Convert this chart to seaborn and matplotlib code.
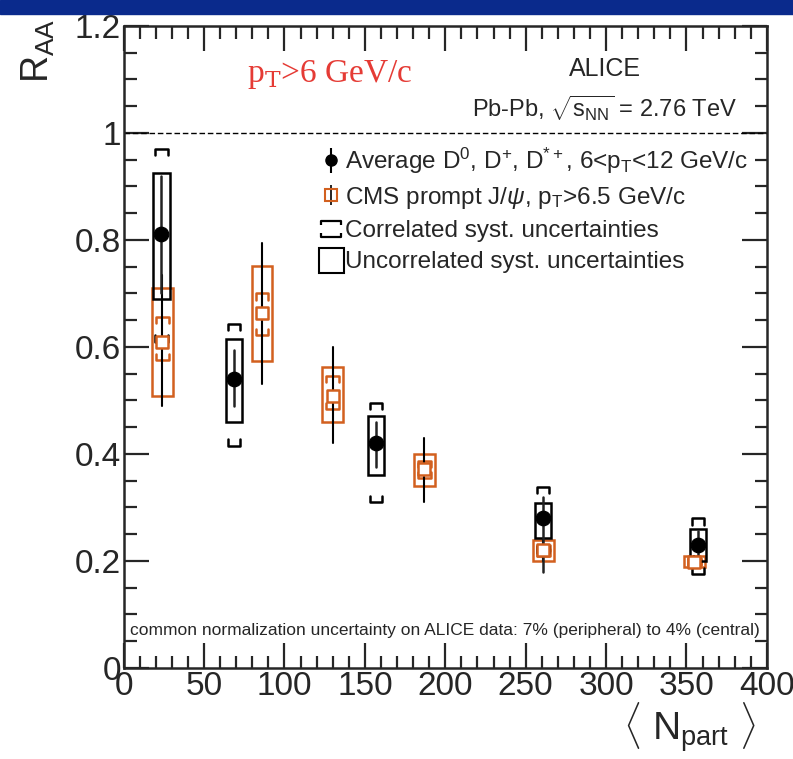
import numpy as np
import pandas as pd
import seaborn as sns
import matplotlib
matplotlib.use("Agg")
import matplotlib.pyplot as plt
from matplotlib.lines import Line2D
from matplotlib.patches import Rectangle
from matplotlib.path import Path
from matplotlib.legend_handler import HandlerTuple
from matplotlib.ticker import MultipleLocator

# ---------------- data ----------------
alice_npart = [23.5, 68.5, 157.0, 261.0, 357.0]
alice_raa = [0.81, 0.54, 0.42, 0.28, 0.23]
alice_stat_lo = [0.70, 0.49, 0.375, 0.18, 0.205]
alice_stat_hi = [0.92, 0.595, 0.46, 0.32, 0.255]
alice_unc_lo = [0.69, 0.46, 0.36, 0.243, 0.20]
alice_unc_hi = [0.925, 0.615, 0.47, 0.308, 0.26]
alice_corr_lo = [0.61, 0.415, 0.31, 0.215, 0.175]
alice_corr_hi = [0.97, 0.643, 0.495, 0.338, 0.28]

cms_npart = [24.0, 86.0, 130.0, 187.0, 261.0, 355.0]
cms_raa = [0.61, 0.663, 0.508, 0.372, 0.22, 0.198]
cms_stat_lo = [0.49, 0.53, 0.42, 0.31, 0.20, 0.19]
cms_stat_hi = [0.735, 0.795, 0.60, 0.43, 0.24, 0.21]
cms_unc_lo = [0.508, 0.574, 0.46, 0.34, 0.20, 0.189]
cms_unc_hi = [0.71, 0.751, 0.562, 0.40, 0.239, 0.21]
cms_corr_lo = [0.575, 0.622, 0.484, 0.355, 0.21, 0.192]
cms_corr_hi = [0.656, 0.70, 0.546, 0.387, 0.23, 0.205]

legend_labels = [
    r"Average D$^{0}$, D$^{+}$, D$^{*+}$, 6<p$_{\mathrm{T}}$<12 GeV/c",
    r"CMS prompt J/$\psi$, p$_{\mathrm{T}}$>6.5 GeV/c",
    "Correlated syst. uncertainties",
    "Uncorrelated syst. uncertainties",
]

ORANGE = "#d2601f"
BLACK = "black"

sns.set_style("ticks")
plt.rcParams["font.family"] = ["Liberation Sans", "DejaVu Sans"]
plt.rcParams["mathtext.fontset"] = "custom"
plt.rcParams["mathtext.rm"] = "Liberation Sans"
plt.rcParams["mathtext.it"] = "Liberation Sans:italic"

fig = plt.figure(figsize=(7.93, 7.59), dpi=100)
ax = fig.add_axes([0.156, 0.12, 0.811, 0.846])

# decorative blue band at top
fig.patches.append(Rectangle((0, 0.982), 1, 0.018, transform=fig.transFigure,
                             color="#0a2a8c", zorder=0))


def draw_set(npart, raa, slo, shi, ulo, uhi, clo, chi, color, bw, cw, lw_stat, stat_color):
    for x, y, a, b, c, d, e, f in zip(npart, raa, slo, shi, ulo, uhi, clo, chi):
        ax.plot([x, x], [a, b], color=stat_color, lw=lw_stat, zorder=3)
        ax.add_patch(Rectangle((x - bw / 2, c), bw, d - c, fill=False,
                               edgecolor=color, lw=1.8, zorder=2))
        h = 0.012
        ax.plot([x - cw / 2, x - cw / 2, x + cw / 2, x + cw / 2],
                [f - h, f, f, f - h], color=color, lw=1.8, zorder=2)
        ax.plot([x - cw / 2, x - cw / 2, x + cw / 2, x + cw / 2],
                [e + h, e, e, e + h], color=color, lw=1.8, zorder=2)


draw_set(cms_npart, cms_raa, cms_stat_lo, cms_stat_hi, cms_unc_lo, cms_unc_hi,
         cms_corr_lo, cms_corr_hi, ORANGE, 13, 8, 1.5, BLACK)
draw_set(alice_npart, alice_raa, alice_stat_lo, alice_stat_hi, alice_unc_lo,
         alice_unc_hi, alice_corr_lo, alice_corr_hi, BLACK, 10, 7.5, 1.8, "#222222")

df_cms = pd.DataFrame({"npart": cms_npart, "raa": cms_raa})
df_alice = pd.DataFrame({"npart": alice_npart, "raa": alice_raa})
sns.scatterplot(data=df_cms, x="npart", y="raa", ax=ax, marker="s", s=70,
                facecolor="white", edgecolor=ORANGE, linewidth=1.8, zorder=4)
sns.scatterplot(data=df_alice, x="npart", y="raa", ax=ax, marker="o", s=110,
                color=BLACK, edgecolor=BLACK, zorder=5)

ax.axhline(1.0, color=BLACK, lw=1.0, ls=(0, (4, 2)), zorder=1)

ax.set_xlim(0, 400)
ax.set_ylim(0, 1.2)
ax.xaxis.set_major_locator(MultipleLocator(50))
ax.xaxis.set_minor_locator(MultipleLocator(10))
ax.yaxis.set_major_locator(MultipleLocator(0.2))
ax.yaxis.set_minor_locator(MultipleLocator(0.05))
ax.tick_params(which="both", direction="in", top=True, right=True, width=1.6)
ax.tick_params(which="major", length=18, labelsize=24, pad=2)
ax.tick_params(which="minor", length=9)


def yfmt(v, p):
    r = round(v, 2)
    if abs(r) < 1e-9:
        return "0"
    if abs(r - 1) < 1e-9:
        return "1"
    return f"{r:.1f}"


ax.yaxis.set_major_formatter(plt.FuncFormatter(yfmt))
for s in ax.spines.values():
    s.set_linewidth(1.8)

ax.set_xlabel("")
ax.set_ylabel("")
fig.text(0.025, 0.975, r"R$_{\mathrm{AA}}$", rotation=90, fontsize=27, va="top", ha="left")
fig.text(0.87, 0.005, r"$\langle$ N$_{\mathrm{part}}$ $\rangle$", fontsize=28,
         ha="center", va="bottom")

ax.text(0.32, 0.95, r"p$_{\mathrm{T}}$>6 GeV/c", transform=ax.transAxes,
        color="#e53b35", fontsize=24, family="Liberation Serif", ha="center", va="top",
        math_fontfamily="dejavuserif")
ax.text(0.748, 0.952, "ALICE", transform=ax.transAxes, fontsize=18, ha="center", va="top")
ax.text(0.953, 0.895, r"Pb-Pb, $\sqrt{\mathrm{s}_{\mathrm{NN}}}$ = 2.76 TeV", transform=ax.transAxes,
        fontsize=17, ha="right", va="top")
ax.text(0.5, 0.059, "common normalization uncertainty on ALICE data: 7% (peripheral) to 4% (central)",
        transform=ax.transAxes, fontsize=12.5, ha="center", va="center")

bracket_path = Path(
    [(-1, 0.4), (-1, 0.8), (1, 0.8), (1, 0.4), (-1, -0.4), (-1, -0.8), (1, -0.8), (1, -0.4)],
    [Path.MOVETO, Path.LINETO, Path.LINETO, Path.LINETO,
     Path.MOVETO, Path.LINETO, Path.LINETO, Path.LINETO])

h_alice = (Line2D([], [], color=BLACK, marker="|", ls="none", markersize=18, markeredgewidth=1.5),
           Line2D([], [], color=BLACK, marker="o", ls="none", markersize=8))
h_cms = (Line2D([], [], color=BLACK, marker="|", ls="none", markersize=14, markeredgewidth=1.2),
         Line2D([], [], color=ORANGE, marker="s", ls="none", markersize=9,
                markerfacecolor="none", markeredgewidth=1.5))
h_corr = Line2D([], [], color=BLACK, marker=bracket_path, ls="none", markersize=14,
                markerfacecolor="none", markeredgewidth=1.6)
h_unc = Line2D([], [], color=BLACK, marker="s", ls="none", markersize=18,
               markerfacecolor="white", markeredgewidth=1.5)

leg = ax.legend([h_alice, h_cms, h_corr, h_unc], legend_labels, loc="upper left",
                bbox_to_anchor=(0.29, 0.829), frameon=False, fontsize=17.5,
                handlelength=0.9, handletextpad=0.15, labelspacing=0.38, borderaxespad=0,
                handler_map={tuple: HandlerTuple(ndivide=1)})

fig.savefig("out.png", dpi=100)
